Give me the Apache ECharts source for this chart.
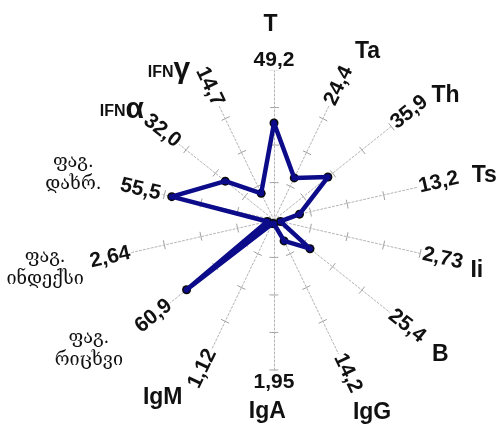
<!DOCTYPE html>
<html>
<head>
<meta charset="utf-8">
<script src="https://cdn.jsdelivr.net/npm/echarts@6/dist/echarts.min.js"></script>
<style>
  html, body { margin: 0; padding: 0; background: #fff; }
  #main { width: 500px; height: 432px; }
</style>
</head>
<body>
<div id="main"></div>
<script>
// axes clockwise from the top
var axisNames = ['T', 'Ta', 'Th', 'Ts', 'Ii', 'B', 'IgG', 'IgA', 'IgM',
  'ფაგ.\nრიცხვი', 'ფაგ.\nინდექსი', 'ფაგ.\nდახრ.', 'IFNα', 'IFNγ'];
var axisMax = [49.2, 24.4, 35.9, 13.2, 2.73, 25.4, 14.2, 1.95, 1.12, 60.9, 2.64, 55.5, 32.0, 14.7];
var maxLabels = ['49,2', '24,4', '35,9', '13,2', '2,73', '25,4', '14,2', '1,95', '1,12',
  '60,9', '2,64', '55,5', '32,0', '14,7'];
var values = [31.8, 7.6, 16.5, 2.3, 0.12, 7.8, 2.2, 0.05, 0.03, 45.4, 0.12, 38.8, 13.3, 2.9];

(function () {
  'use strict';
  var cx = 274, cy = 220, R = 150;
  var N = axisNames.length;
  // where the texts sit: distance from the centre (and angle for the names)
  var valueLabelR = [160, 149, 173, 169, 173, 170, 170, 162, 165, 154, 168, 137, 143, 148];
  var nameLayout = [[195, -1], [193, 29], [212, 54], [215, 78], [209, 104], [214, 129], [216, 153],
    [192, 182], [210, 212], [226, 235], [234, 258], [206, 283], [188, 306], [183, 325]];

  var myChart = echarts.init(document.getElementById('main'));

  // radar goes counterclockwise, so T first then the rest reversed
  var order = [0];
  for (var k = N - 1; k >= 1; k--) order.push(k);

  // short dashes centred on each axis -> the little tick crosses
  function tickStyle(r) {
    var P = 2 * Math.PI * r / N, d = 9;
    var s0 = r * Math.PI / N;
    var off = ((d / 2 - s0) % P + P) % P;
    return { color: '#a0a0a0', width: 1, type: [d, P - d], dashOffset: off };
  }

  var radars = [{
    center: [cx, cy],
    radius: R,
    startAngle: 90,
    splitNumber: 1,
    shape: 'circle',
    indicator: order.map(function (i) { return { name: '', max: axisMax[i] }; }),
    axisName: { show: false },
    axisLine: { lineStyle: { color: '#b4b4b4', width: 1, type: [2, 2] } },
    splitLine: { lineStyle: tickStyle(R) },
    splitArea: { show: false }
  }];
  [0.25, 0.5, 0.75].forEach(function (f) {
    radars.push({
      center: [cx, cy],
      radius: R * f,
      startAngle: 90,
      splitNumber: 1,
      shape: 'circle',
      silent: true,
      indicator: order.map(function () { return { name: '', max: 1 }; }),
      axisName: { show: false },
      axisLine: { show: false },
      splitLine: { lineStyle: tickStyle(R * f) },
      splitArea: { show: false }
    });
  });

  var data = order.map(function (i) { return values[i]; });

  var texts = [];
  for (var i = 0; i < N; i++) {
    var a = i * 2 * Math.PI / N;
    // value at the end of the axis, turned along it
    var rv = valueLabelR[i];
    var phi = 90 - i * 360 / N;
    phi = ((phi % 360) + 360) % 360;
    if (phi > 90 && phi < 270) phi -= 180;
    if (Math.abs(Math.sin(a)) < 0.01) phi = 0;
    texts.push({
      type: 'text',
      x: cx + rv * Math.sin(a),
      y: cy - rv * Math.cos(a),
      rotation: phi * Math.PI / 180,
      z: 10,
      style: {
        text: maxLabels[i],
        font: 'bold 21px "Liberation Sans", Arial, sans-serif',
        fill: '#111',
        align: 'center',
        verticalAlign: 'middle',
        backgroundColor: '#fff',
        padding: [0, 1]
      }
    });
    // axis name
    var nr = nameLayout[i][0], na = nameLayout[i][1] * Math.PI / 180;
    var name = axisNames[i];
    var st = {
      fill: '#111',
      align: 'center',
      verticalAlign: 'middle'
    };
    if (name.indexOf('\n') >= 0) {
      st.text = name;
      st.font = '18px "DejaVu Serif", "DejaVu Sans", serif';
      st.lineHeight = 22;
    } else if (name.indexOf('IFN') === 0) {
      st.text = '{s|IFN}{g|' + name.slice(3) + '}';
      st.rich = {
        s: { font: 'bold 16px "Liberation Sans", Arial, sans-serif', fill: '#111', verticalAlign: 'bottom', padding: [0, 0, 5, 0] },
        g: { font: 'bold 30px "Liberation Sans", Arial, sans-serif', fill: '#111', verticalAlign: 'bottom' }
      };
    } else {
      st.text = name;
      st.font = 'bold 23px "Liberation Sans", Arial, sans-serif';
    }
    texts.push({
      type: 'text',
      x: cx + nr * Math.sin(na),
      y: cy - nr * Math.cos(na),
      z: 10,
      style: st
    });
  }

  var option = {
    backgroundColor: '#fff',
    animation: false,
    radar: radars,
    series: [{
      type: 'radar',
      radarIndex: 0,
      z: 2,
      symbol: 'circle',
      symbolSize: 9,
      symbolOffset: [2, 3],
      itemStyle: { color: '#0a0a0a' },
      lineStyle: { width: 0, opacity: 0 },
      data: [{ value: data }]
    }, {
      type: 'radar',
      radarIndex: 0,
      z: 3,
      symbol: 'circle',
      symbolSize: 6,
      itemStyle: { color: '#0c0c8a' },
      lineStyle: { color: '#0c0c8a', width: 4.5, join: 'round', cap: 'round' },
      data: [{ value: data }]
    }],
    graphic: texts
  };

  myChart.setOption(option);
  window.addEventListener('resize', function () {
    myChart.resize();
  });
})();
</script>
</body>
</html>
